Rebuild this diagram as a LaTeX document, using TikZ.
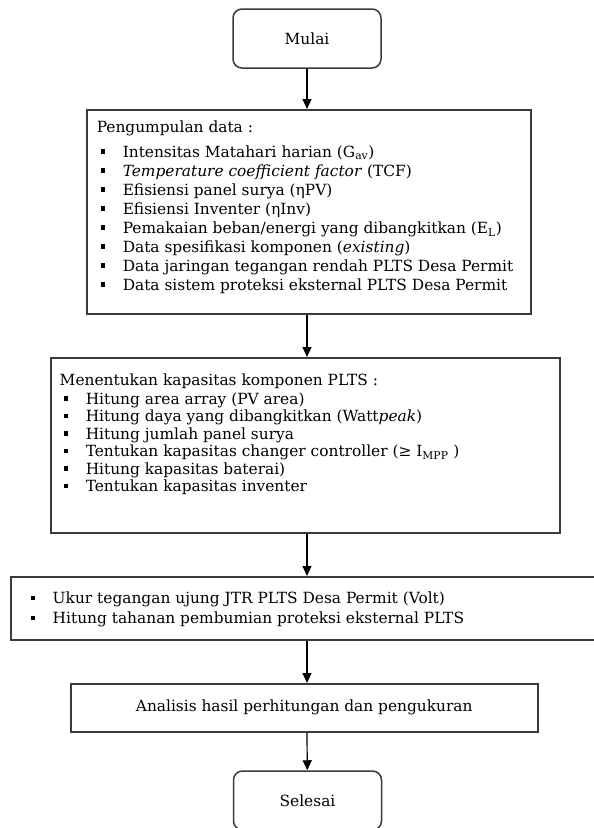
\documentclass[tikz,border=0pt]{standalone}
\usepackage{fontspec}
\setmainfont{DejaVu Serif}
\usetikzlibrary{positioning,arrows.meta}
\definecolor{garis}{HTML}{3A3A3A}

\newlength\indenbutir
\newcommand{\butir}[1]{\hspace*{\indenbutir}\rule[3.5pt]{4.5pt}{4.5pt}\hspace{17.5pt}#1\par}

\begin{document}
\begin{tikzpicture}[x=1pt,y=1pt,
    every node/.style={font=\fontsize{15.4}{19}\selectfont},
    kotak/.style={draw=garis, line width=1.5pt, inner sep=0pt, anchor=north west},
    ujung/.style={draw=garis, line width=1.5pt, rounded corners=9pt,
        minimum width=148pt, minimum height=59pt, inner sep=0pt},
    panah/.style={-{Triangle[width=9pt,length=10pt]}, line width=1.2pt}]
    \useasboundingbox (0,0) rectangle (594,-828);

    % mulai
    \node[ujung] (mulai) at (307,-38.5) {Mulai};

    % pengumpulan data
    \node[kotak] (data) at (86,-109) {\parbox[c][204pt][t]{444pt}{%
        \leftskip=10pt \setlength\indenbutir{4pt}\baselineskip=19pt
        \vspace*{10.8pt}
        Pengumpulan data :\par\vspace{6pt}
        \butir{Intensitas Matahari harian (G\textsubscript{av})}
        \butir{\textit{Temperature coefficient factor} (TCF)}
        \butir{Efisiensi panel surya (ηPV)}
        \butir{Efisiensi Inventer (ηInv)}
        \butir{Pemakaian beban/energi yang dibangkitkan (E\textsubscript{L})}
        \butir{Data spesifikasi komponen (\textit{existing})}
        \butir{Data jaringan tegangan rendah PLTS Desa Permit}
        \butir{Data sistem proteksi eksternal PLTS Desa Permit}}};

    % kapasitas komponen
    \node[kotak] (kapasitas) at (50,-357) {\parbox[c][175pt][t]{509pt}{%
        \leftskip=9pt \setlength\indenbutir{4pt}\baselineskip=17.5pt
        \vspace*{15.8pt}
        Menentukan kapasitas komponen PLTS :\par\vspace{1.5pt}
        \butir{Hitung area array (PV area)}
        \butir{Hitung daya yang dibangkitkan (Watt\textit{peak})}
        \butir{Hitung jumlah panel surya}
        \butir{Tentukan kapasitas changer controller (≥ I\textsubscript{MPP} )}
        \butir{Hitung kapasitas baterai)}
        \butir{Tentukan kapasitas inventer}}};

    % pengukuran
    \node[kotak] (ukur) at (10,-576) {\parbox[c][63pt][t]{590pt}{%
        \leftskip=16pt \setlength\indenbutir{4pt}\baselineskip=20pt
        \vspace*{15.3pt}
        \butir{Ukur tegangan ujung JTR PLTS Desa Permit (Volt)}
        \butir{Hitung tahanan pembumian proteksi eksternal PLTS}}};

    % analisis
    \node[kotak, minimum width=467pt, minimum height=48pt] (analisis) at (70,-683)
        {Analisis hasil perhitungan dan pengukuran};

    % selesai
    \node[ujung] (selesai) at (307.5,-800.5) {Selesai};

    \draw[panah] (mulai) -- (mulai |- data.north);
    \draw[panah] (data.south -| mulai) -- (kapasitas.north -| mulai);
    \draw[panah] (kapasitas.south -| mulai) -- (ukur.north -| mulai);
    \draw[panah] (ukur.south -| mulai) -- (analisis.north -| mulai);
    \draw[panah] (analisis.south -| mulai) -- (selesai);
\end{tikzpicture}
\end{document}
